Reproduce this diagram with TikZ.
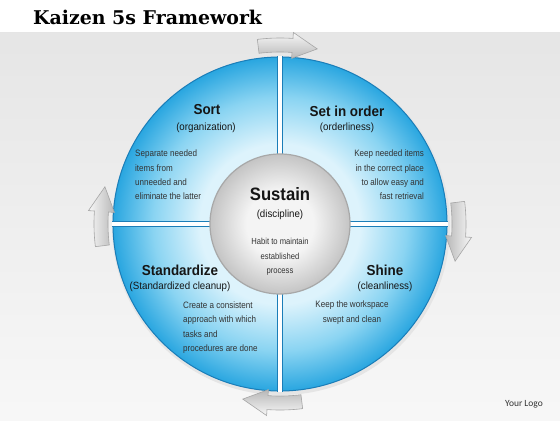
\documentclass[tikz,border=0pt]{standalone}
\usepackage{fontspec}
\setmainfont{Liberation Sans}
\newfontfamily\titlefont{DejaVu Serif}
\newfontfamily\bodyfont[FakeStretch=0.87]{Liberation Sans}
\newfontfamily\headfont[FakeStretch=0.93]{Liberation Sans}
\newfontfamily\logofont{Carlito}
\definecolor{qlight}{HTML}{DDF3FC}
\definecolor{qmid}{HTML}{8AD4F2}
\definecolor{qdark}{HTML}{29A6E0}
\definecolor{qedge}{HTML}{1A7DB8}
\definecolor{sglight}{HTML}{F4F4F4}
\definecolor{sgdark}{HTML}{C4C4C4}
\definecolor{sgedge}{HTML}{A8A8A8}
\definecolor{txt}{HTML}{151515}
\definecolor{bodytxt}{HTML}{333333}
\pgfdeclareradialshading{quadshade}{\pgfpoint{0bp}{0bp}}{color(0bp)=(qlight); color(12bp)=(qlight); color(19bp)=(qmid); color(25bp)=(qdark); color(50bp)=(qdark)}
\pgfdeclareradialshading{sustshade}{\pgfpoint{0bp}{0bp}}{color(0bp)=(sglight); color(12bp)=(sglight); color(25bp)=(sgdark); color(50bp)=(sgdark)}
\begin{document}
\begin{tikzpicture}[x=1bp,y=1bp,
  head/.style={font=\headfont\bfseries\fontsize{14.5}{16}\selectfont, text=txt, inner sep=0pt},
  sub/.style={font=\headfont\fontsize{10.5}{12}\selectfont, text=txt, inner sep=0pt},
  body/.style={font=\bodyfont\fontsize{9.3}{14.5}\selectfont, text=bodytxt, inner sep=0pt},
  arrowshape/.style={draw=black!35, line width=0.6bp, top color=black!3, bottom color=black!28}]
\useasboundingbox (-280,-196) rectangle (280,224);
\fill[white] (-280,-196) rectangle (280,224);
\shade[top color=black!10, bottom color=black!3] (-280,-196) rectangle (280,192);
% pie
\fill[black!10] (1,-2) circle (169);
\shade[shading=quadshade] (0,0) circle (167);
\draw[qedge, line width=1bp] (0,0) circle (167);
\begin{scope}
  \clip (0,0) circle (168);
  \draw[qedge, line width=0.8bp] (-170,2.6) -- (170,2.6) (-170,-2.6) -- (170,-2.6)
        (2.6,-170) -- (2.6,170) (-2.6,-170) -- (-2.6,170);
  \fill[white] (-170,-2.2) rectangle (170,2.2);
  \fill[white] (-2.2,-170) rectangle (2.2,170);
\end{scope}
% arrows
\foreach \b in {0,-90,-180,90}{
  \shade[arrowshape, shading angle=\b]
    ({\b+97}:172) arc[start angle=\b+97, end angle=\b+86, radius=172]
    -- ({\b+86}:166) -- ({\b+78}:179) -- ({\b+86}:192) -- ({\b+86}:186)
    arc[start angle=\b+86, end angle=\b+97, radius=186] -- cycle;
}
% centre
\shade[shading=sustshade] (0,0) circle (70);
\draw[sgedge, line width=1.2bp] (0,0) circle (70);
% title and logo
\node[font=\titlefont\bfseries\fontsize{19}{22}\selectfont, anchor=west, inner sep=0pt, text=black] (title) at (-247,207) {Kaizen 5s Framework};
\node[font=\logofont\fontsize{9.5}{11}\selectfont, text=black!80, inner sep=0pt] (logo) at (244,-180) {Your Logo};
% Sort
\node[head] (sorth) at (-73,114) {Sort};
\node[sub] (sorts) at (-74,96) {(organization)};
\node[body, anchor=west, align=left] (sortb) at (-145,49) {Separate needed\\items from\\unneeded and\\eliminate the latter};
% Set in order
\node[head] (seth) at (67,113) {Set in order};
\node[sub] (sets) at (67,96) {(orderliness)};
\node[body, anchor=east, align=right] (setb) at (144,49) {Keep needed items\\in the correct place\\to allow easy and\\fast retrieval};
% Sustain
\node[font=\headfont\bfseries\fontsize{18}{19}\selectfont, text=txt, inner sep=0pt] (susth) at (0,30) {Sustain};
\node[sub] (susts) at (0,9) {(discipline)};
\node[body, align=center, font=\bodyfont\fontsize{8.8}{14.5}\selectfont] (sustb) at (0,-33) {Habit to maintain\\established\\process};
% Standardize
\node[head] (stdh) at (-100,-46) {Standardize};
\node[sub] (stds) at (-100,-63) {(Standardized cleanup)};
\node[body, anchor=west, align=left] (stdb) at (-97,-103.5) {Create a consistent\\approach with which\\tasks and\\procedures are done};
% Shine
\node[head] (shineh) at (105,-46) {Shine};
\node[sub] (shines) at (105,-63) {(cleanliness)};
\node[body, align=center] (shineb) at (72,-88.5) {Keep the workspace\\swept and clean};
\end{tikzpicture}
\end{document}
